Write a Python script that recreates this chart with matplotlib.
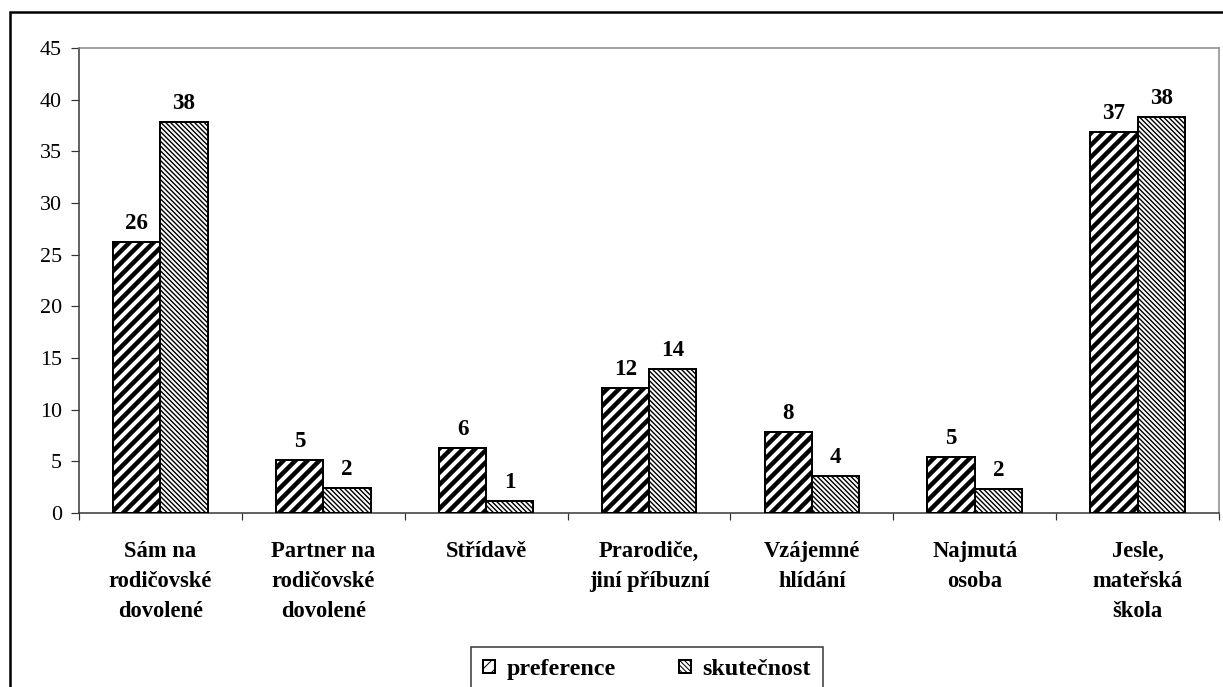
import matplotlib
matplotlib.use("Agg")
import matplotlib.pyplot as plt
import matplotlib.patches as mpatches
import numpy as np

categories = ["Sám na\nrodičovské\ndovolené", "Partner na\nrodičovské\ndovolené", "Střídavě",
              "Prarodiče,\njiní příbuzní", "Vzájemné\nhlídání", "Najmutá\nosoba",
              "Jesle,\nmateřská\nškola"]
preference = [26.2, 5.1, 6.3, 12.1, 7.8, 5.4, 36.9]
skutecnost = [37.8, 2.4, 1.2, 13.9, 3.6, 2.3, 38.3]
series_names = ["preference", "skutečnost"]
yticks = [0, 5, 10, 15, 20, 25, 30, 35, 40, 45]

W, H = 1223, 687
DPI = 72
plt.rcParams['font.family'] = ['Liberation Serif', 'DejaVu Serif']
fig = plt.figure(figsize=(W / DPI, H / DPI), dpi=DPI)
ax = fig.add_axes([79 / W, 1 - 513 / H, (1219 - 79) / W, (513 - 48) / H])

x = np.arange(len(categories))
bw = 0.29
b1 = ax.bar(x - bw / 2, preference, bw, facecolor='white', edgecolor='black', linewidth=2,
            hatch='//', label=series_names[0], zorder=3)
b2 = ax.bar(x + bw / 2, skutecnost, bw, facecolor='white', edgecolor='black', linewidth=2,
            hatch='\\' * 5, label=series_names[1], zorder=3)
for p in b1:
    try:
        p.set_hatch_linewidth(4.5)
    except AttributeError:
        pass
for p in b2:
    try:
        p.set_hatch_linewidth(1.4)
    except AttributeError:
        pass

for bars, vals in ((b1, preference), (b2, skutecnost)):
    for rect, v in zip(bars, vals):
        ax.annotate(f"{round(v)}", (rect.get_x() + rect.get_width() / 2, v),
                    xytext=(0, 8), textcoords='offset points', ha='center', va='bottom',
                    fontsize=23, fontweight='bold')

ax.set_xlim(-0.5, len(categories) - 0.5)
ax.set_ylim(0, 45)
ax.set_yticks(yticks)
ax.tick_params(axis='y', direction='out', length=8, width=1.2, labelsize=22, pad=9, color='#333333')
ax.set_xticks(x)
ax.set_xticklabels(categories, fontsize=22.5, fontweight='bold', linespacing=1.55)
ax.set_xticks(np.arange(len(categories) + 1) - 0.5, minor=True)
ax.tick_params(axis='x', which='major', length=0, pad=28)
ax.tick_params(axis='x', which='minor', direction='out', length=7, width=1.2, color='#333333')

for s in ('top', 'right'):
    ax.spines[s].set_color('#888888')
    ax.spines[s].set_linewidth(1.5)
for s in ('left', 'bottom'):
    ax.spines[s].set_color('#333333')
    ax.spines[s].set_linewidth(1.5)

# outer frame
fig.patches.append(mpatches.Rectangle((10.5 / W, -0.2), 1.5, (H - 11.5) / H + 0.2,
                                      transform=fig.transFigure, fill=False,
                                      edgecolor='black', linewidth=2.5, clip_on=False))

leg = fig.legend(handles=[b1, b2], loc='upper center', bbox_to_anchor=(647 / W, 1 - 647 / H),
                 ncol=2, frameon=True, fancybox=False, edgecolor='black', borderaxespad=0,
                 prop={'size': 24, 'weight': 'bold'}, handlelength=0.5, handleheight=0.5,
                 handletextpad=0.5, columnspacing=2.6, borderpad=0.5)
leg.get_frame().set_linewidth(1.5)

fig.savefig("out.png", dpi=DPI)
